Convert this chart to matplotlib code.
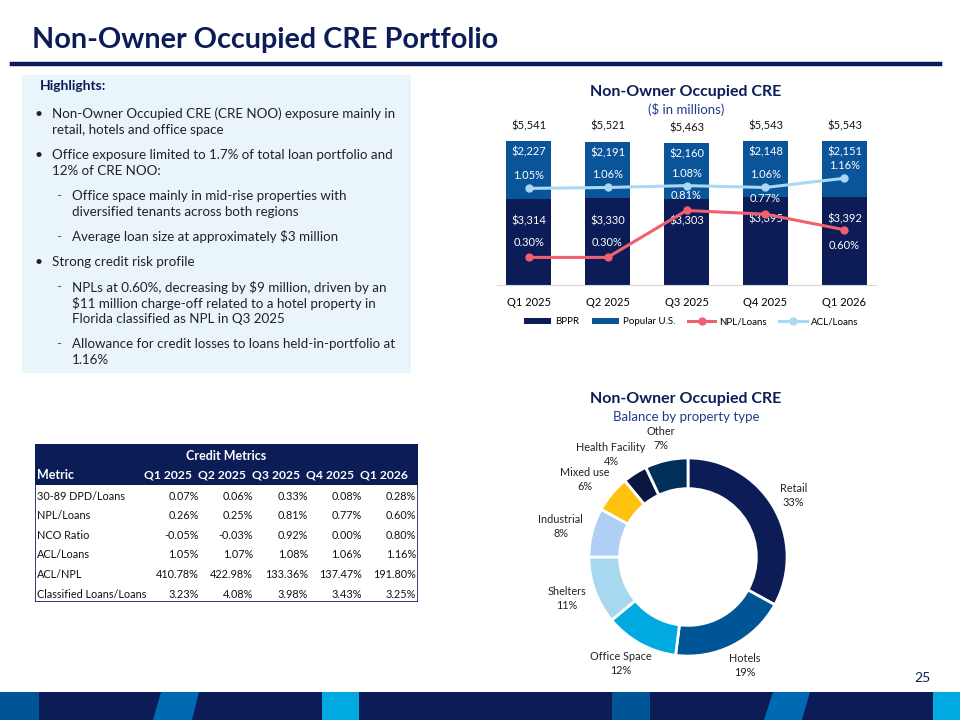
import numpy as np
import matplotlib
matplotlib.use("Agg")
import matplotlib.pyplot as plt
from matplotlib.patches import Rectangle, Polygon, Patch
from matplotlib.lines import Line2D

plt.rcParams["font.family"] = ["Lato", "DejaVu Sans"]

# Datos
quarters = ["Q1 2025", "Q2 2025", "Q3 2025", "Q4 2025", "Q1 2026"]
bppr = [3314, 3330, 3303, 3395, 3392]
popular_us = [2227, 2191, 2160, 2148, 2151]
totals = [5541, 5521, 5463, 5543, 5543]
npl_loans = [0.30, 0.30, 0.81, 0.77, 0.60]
acl_loans = [1.05, 1.06, 1.08, 1.06, 1.16]

property_types = ["Retail", "Hotels", "Office Space", "Shelters", "Industrial",
                  "Mixed use", "Health Facility", "Other"]
property_share = [33, 19, 12, 11, 8, 6, 4, 7]

metric_names = ["30-89 DPD/Loans", "NPL/Loans", "NCO Ratio", "ACL/Loans",
                "ACL/NPL", "Classified Loans/Loans"]
metric_values = [
    ["0.07%", "0.06%", "0.33%", "0.08%", "0.28%"],
    ["0.26%", "0.25%", "0.81%", "0.77%", "0.60%"],
    ["-0.05%", "-0.03%", "0.92%", "0.00%", "0.80%"],
    ["1.05%", "1.07%", "1.08%", "1.06%", "1.16%"],
    ["410.78%", "422.98%", "133.36%", "137.47%", "191.80%"],
    ["3.23%", "4.08%", "3.98%", "3.43%", "3.25%"],
]

highlights = [
    ("bullet", ["Non-Owner Occupied CRE (CRE NOO) exposure mainly in",
                "retail, hotels and office space"]),
    ("bullet", ["Office exposure limited to 1.7% of total loan portfolio and",
                "12% of CRE NOO:"]),
    ("dash", ["Office space mainly in mid-rise properties with",
              "diversified tenants across both regions"]),
    ("dash", ["Average loan size at approximately $3 million"]),
    ("bullet", ["Strong credit risk profile"]),
    ("dash", ["NPLs at 0.60%, decreasing by $9 million, driven by an",
              "$11 million charge-off related to a hotel property in",
              "Florida classified as NPL in Q3 2025"]),
    ("dash", ["Allowance for credit losses to loans held-in-portfolio at",
              "1.16%"]),
]

NAVY = "#0b1c57"
BLUE = "#0a5599"
W, H = 960, 720


def fx(x):
    return x / W


def fy(y):
    return 1 - y / H


fig = plt.figure(figsize=(9.6, 7.2), dpi=100)

# Titulo y linea
fig.text(fx(32), fy(40), "Non-Owner Occupied CRE Portfolio", fontsize=20.7,
         fontweight="bold", color=NAVY, va="center", ha="left")
fig.add_artist(Line2D([fx(12), fx(940)], [fy(64), fy(64)], color=NAVY, lw=3.2))

# Cuadro de highlights
fig.add_artist(Rectangle((fx(22), fy(373)), fx(411) - fx(22), fy(75) - fy(373),
                         transform=fig.transFigure, facecolor="#eaf4fb", edgecolor="none"))
fig.text(fx(40), fy(86), "Highlights:", fontsize=10, fontweight="bold", color=NAVY, va="center")
y = 114
for kind, lines in highlights:
    if kind == "bullet":
        fig.text(fx(34), fy(y), "\u2022", fontsize=10, color="#222222", va="center")
        tx = 52
    else:
        fig.text(fx(56), fy(y), "-", fontsize=9.6, color="#555555", va="center")
        tx = 72
    for k, line in enumerate(lines):
        fig.text(fx(tx), fy(y + 16 * k), line, fontsize=9.6, color="#222222", va="center")
    y += 16 * len(lines) + 9

# Grafico de barras
bar_l, bar_r, bar_t, bar_b = 497, 876, 110, 285
ax = fig.add_axes([fx(bar_l), fy(bar_b), fx(bar_r) - fx(bar_l), fy(bar_t) - fy(bar_b)])
x = np.arange(len(quarters))
ax.bar(x, bppr, width=0.57, color=NAVY, zorder=2)
ax.bar(x, popular_us, width=0.57, bottom=bppr, color=BLUE, zorder=2)
ax.set_xlim(-0.4, 4.4)
ax.set_ylim(0, 6733)
ax.set_xticks(x)
ax.set_xticklabels(quarters, fontsize=8)
ax.tick_params(axis="x", length=0, pad=9)
ax.set_yticks([])
for s in ["top", "right", "left"]:
    ax.spines[s].set_visible(False)
ax.spines["bottom"].set_color("#d9d9d9")
for i in range(len(x)):
    ax.annotate(f"${totals[i]:,}", (x[i], totals[i]), xytext=(0, 11), textcoords="offset points",
                ha="center", va="center", fontsize=8, color="#111111")
    ax.annotate(f"${popular_us[i]:,}", (x[i], totals[i]), xytext=(0, -8), textcoords="offset points",
                ha="center", va="center", fontsize=8, color="white")
    ax.annotate(f"${bppr[i]:,}", (x[i], bppr[i]), xytext=(0, -16), textcoords="offset points",
                ha="center", va="center", fontsize=8, color="white")

ax2 = ax.twinx()
ax2.set_ylim(0, 1.902)
ax2.axis("off")
ax2.plot(x, npl_loans, color="#f0606f", lw=2.2, marker="o", ms=5, zorder=3)
ax2.plot(x, acl_loans, color="#a9d8f2", lw=2.2, marker="o", ms=5, zorder=3)
for i in range(len(x)):
    dy = -11 if i == len(x) - 1 else 11
    ax2.annotate(f"{npl_loans[i]:.2f}%", (x[i], npl_loans[i]), xytext=(0, dy),
                 textcoords="offset points", ha="center", va="center", fontsize=8, color="white")
    ax2.annotate(f"{acl_loans[i]:.2f}%", (x[i], acl_loans[i]), xytext=(0, 9),
                 textcoords="offset points", ha="center", va="center", fontsize=8, color="white")

fig.text(fx(686), fy(92), "Non-Owner Occupied CRE", fontsize=11.5, fontweight="bold",
         color=NAVY, ha="center", va="center")
fig.text(fx(686), fy(109), "($ in millions)", fontsize=9.5, color="#1f3c88", ha="center", va="center")

handles = [Patch(facecolor=NAVY), Patch(facecolor=BLUE),
           Line2D([], [], color="#f0606f", lw=2.2, marker="o", ms=5),
           Line2D([], [], color="#a9d8f2", lw=2.2, marker="o", ms=5)]
fig.legend(handles, ["BPPR", "Popular U.S.", "NPL/Loans", "ACL/Loans"], ncol=4,
           loc="center", bbox_to_anchor=(fx(691), fy(322)), frameon=False, fontsize=7,
           handlelength=2.8, handleheight=0.6, columnspacing=1.3, handletextpad=0.4)

# Dona
fig.text(fx(686), fy(399), "Non-Owner Occupied CRE", fontsize=11.5, fontweight="bold",
         color=NAVY, ha="center", va="center")
fig.text(fx(686), fy(417), "Balance by property type", fontsize=9.5, color="#1f3c88",
         ha="center", va="center")
cx, cy, side = 688, 557, 317
axd = fig.add_axes([fx(cx - side / 2), fy(cy + side / 2), side / W, side / H])
donut_colors = ["#0b1c57", "#005596", "#00a9e0", "#a8d8f0", "#b0cff5", "#ffc20e", "#0a1640", "#003059"]
labels = [f"{n}\n{v}%" for n, v in zip(property_types, property_share)]
wedges, texts = axd.pie(property_share, labels=labels, colors=donut_colors, startangle=90,
                        counterclock=False, labeldistance=1.2,
                        wedgeprops=dict(width=0.31, edgecolor="white", linewidth=2),
                        textprops=dict(fontsize=7.8, color="#222222", linespacing=1.35))
axd.set_xlim(-1.6, 1.6)
axd.set_ylim(-1.6, 1.6)
axd.axis("off")

# etiquetas fuera del anillo, separadas segun su tamano
renderer = fig.canvas.get_renderer()
px_per_unit = side / 3.2
for wdg, t in zip(wedges, texts):
    t.set_ha("center")
    t.set_va("center")
    t.set_multialignment("center")
    th = np.deg2rad((wdg.theta1 + wdg.theta2) / 2)
    bb = t.get_window_extent(renderer)
    hw = bb.width / 2 / px_per_unit
    hh = bb.height / 2 / px_per_unit
    r0 = 1.1
    t.set_position(((r0 + hw) * np.cos(th), r0 * np.sin(th) + hh * np.sin(th)))

# Tabla
tl, tr, tt, tb = 35, 418, 444, 602
axt = fig.add_axes([fx(tl), fy(tb), fx(tr) - fx(tl), fy(tt) - fy(tb)])
axt.set_xlim(tl, tr)
axt.set_ylim(tb, tt)
axt.axis("off")
axt.add_patch(Rectangle((tl, tt), tr - tl, 41, facecolor=NAVY, edgecolor="none"))
axt.add_patch(Rectangle((tl, tt), tr - tl, tb - tt, facecolor="none", edgecolor=NAVY, lw=1.2))
axt.text((tl + tr) / 2, tt + 12, "Credit Metrics", color="white", fontsize=9,
         fontweight="bold", ha="center", va="center")
col_right = [192, 246, 300, 354, 408]
val_right = [199, 253, 308, 362, 416]
axt.text(tl + 2, tt + 31, "Metric", color="white", fontsize=9, fontweight="bold", va="center")
for j, q in enumerate(quarters):
    axt.text(col_right[j], tt + 31, q, color="white", fontsize=8.7, fontweight="bold",
             ha="right", va="center")
for i, name in enumerate(metric_names):
    ry = 496 + i * 19.6
    axt.text(tl + 2, ry, name, fontsize=7.8, color="#111111", va="center")
    for j, v in enumerate(metric_values[i]):
        axt.text(val_right[j], ry, v, fontsize=7.8, color="#111111", ha="right", va="center")

# Pie de pagina
axf = fig.add_axes([0, 0, 1, 28 / H])
axf.set_xlim(0, W)
axf.set_ylim(0, 28)
axf.axis("off")
axf.add_patch(Rectangle((0, 0), W, 28, facecolor=NAVY, edgecolor="none"))
footer_blocks = [
    ([(0, 0), (39, 0), (39, 28), (0, 28)], "#005596"),
    ([(153, 0), (192, 0), (199, 28), (161, 28)], "#0069b4"),
    ([(322, 0), (359, 0), (359, 28), (322, 28)], "#00a9e0"),
    ([(612, 0), (650, 0), (650, 28), (612, 28)], "#005596"),
    ([(764, 0), (802, 0), (810, 28), (773, 28)], "#0069b4"),
    ([(933, 0), (960, 0), (960, 28), (933, 28)], "#00a9e0"),
]
for pts, c in footer_blocks:
    axf.add_patch(Polygon(pts, closed=True, facecolor=c, edgecolor="none"))
fig.text(fx(922), fy(678), "25", fontsize=10, color=NAVY, ha="center", va="center")

fig.savefig("out.png", dpi=100)
